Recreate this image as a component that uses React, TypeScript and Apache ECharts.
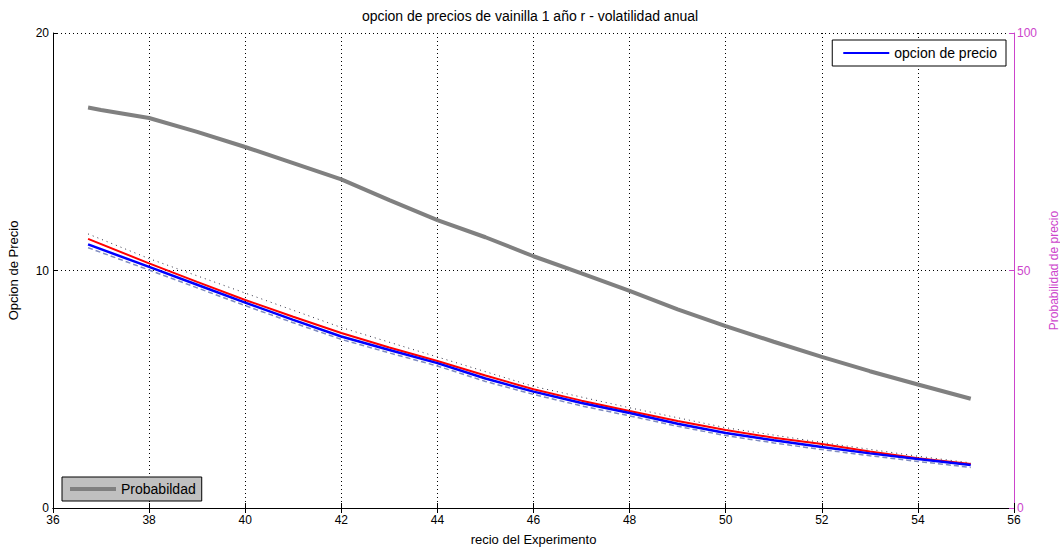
import React, { useEffect, useRef } from "react";
import * as echarts from "echarts";

const title = "opcion de precios de vainilla 1 año r - volatilidad anual";
const xName = "recio del Experimento";
const yLeftName = "Opcion de Precio";
const yRightName = "Probabilidad de precio";

const probX = [36.73, 37, 38, 39, 40, 41, 42, 43, 44, 45, 46, 47, 48, 49, 50, 51, 52, 53, 54, 55.1];
const probY = [84.3, 83.8, 82.1, 79.2, 76.0, 72.6, 69.2, 64.8, 60.6, 57.0, 53.0, 49.4, 45.7, 41.8, 38.3, 35.0, 31.8, 28.8, 26.0, 23.0];

const priceX = [36.73, 38, 39, 40, 41, 42, 43, 44, 45, 46, 47, 48, 49, 50, 51, 52, 53, 54, 55.1];
const mcPrice = [11.1, 10.15, 9.4, 8.65, 7.92, 7.22, 6.65, 6.1, 5.45, 4.9, 4.42, 4.0, 3.55, 3.16, 2.85, 2.57, 2.3, 2.06, 1.81];
const bsPrice = [11.33, 10.3, 9.52, 8.76, 8.05, 7.37, 6.76, 6.19, 5.58, 5.0, 4.52, 4.08, 3.66, 3.28, 2.96, 2.69, 2.38, 2.1, 1.85];
const lowerBand = [10.96, 10.02, 9.27, 8.52, 7.8, 7.1, 6.53, 5.98, 5.33, 4.78, 4.3, 3.88, 3.44, 3.05, 2.74, 2.46, 2.2, 1.96, 1.71];
const upperX = [36.73, 38, 40, 42, 44, 46, 48, 50, 52, 54, 55.1];
const upperBand = [11.54, 10.5, 9.05, 7.6, 6.36, 5.12, 4.22, 3.38, 2.76, 2.18, 1.9];

const zip = (xs: number[], ys: number[]) => xs.map((x, i) => [x, ys[i]]);

const FONT = "Liberation Sans";
const MAG = "#cc44cc";

export default function App() {
  const ref = useRef<HTMLDivElement>(null);
  useEffect(() => {
    if (!ref.current) return;
    const chart = echarts.init(ref.current, null, { renderer: "svg" });
    chart.setOption({
      animation: false,
      backgroundColor: "#fff",
      textStyle: { fontFamily: FONT },
      title: {
        text: title,
        left: "center",
        top: 4,
        textStyle: { fontFamily: FONT, fontSize: 14, fontWeight: "normal", color: "#000" },
      },
      grid: { left: 53, right: 46, top: 33, bottom: 42, containLabel: false, outerBoundsMode: "none" },
      legend: [
        {
          data: ["opcion de precio"],
          right: 54,
          top: 40,
          orient: "vertical",
          backgroundColor: "#fff",
          borderColor: "#000",
          borderWidth: 1,
          borderRadius: 0,
          padding: [6, 9, 6, 11],
          icon: "rect",
          itemWidth: 46,
          itemHeight: 2,
          itemGap: 4,
          textStyle: { fontFamily: FONT, fontSize: 14, color: "#000" },
        },
        {
          data: ["Probabildad"],
          left: 62,
          bottom: 49,
          orient: "vertical",
          backgroundColor: "#c0c0c0",
          borderColor: "#000",
          borderWidth: 1,
          borderRadius: 0,
          padding: [5, 6, 5, 8],
          icon: "rect",
          itemWidth: 46,
          itemHeight: 4,
          itemGap: 4,
          textStyle: { fontFamily: FONT, fontSize: 14, color: "#000" },
        },
      ],
      xAxis: [
        {
          type: "value",
          min: 36,
          max: 56,
          interval: 2,
          name: xName,
          nameLocation: "middle",
          nameGap: 25,
          nameTextStyle: { fontFamily: FONT, fontSize: 13, color: "#000" },
          axisLine: { lineStyle: { color: "#000" } },
          axisTick: { inside: true, length: 5, lineStyle: { color: "#000" } },
          axisLabel: { fontFamily: FONT, fontSize: 12, color: "#000", margin: 6 },
          splitLine: { show: true, lineStyle: { color: "#000", type: [1, 3], width: 1 } },
        },
        {
          type: "value",
          position: "top",
          min: 36,
          max: 56,
          interval: 2,
          axisLine: { show: true, lineStyle: { color: "#000" } },
          axisTick: { show: true, inside: true, length: 5, lineStyle: { color: "#000" } },
          axisLabel: { show: false },
          splitLine: { show: false },
        },
      ],
      yAxis: [
        {
          type: "value",
          min: 0,
          max: 20,
          interval: 10,
          position: "left",
          name: yLeftName,
          nameLocation: "middle",
          nameGap: 33,
          nameTextStyle: { fontFamily: FONT, fontSize: 13, color: "#000" },
          axisLine: { show: true, lineStyle: { color: "#000" } },
          axisTick: { show: true, inside: true, length: 5, lineStyle: { color: "#000" } },
          axisLabel: { fontFamily: FONT, fontSize: 12, color: "#000", margin: 4 },
          splitLine: { show: true, lineStyle: { color: "#000", type: [1, 3], width: 1 } },
        },
        {
          type: "value",
          min: 0,
          max: 100,
          interval: 50,
          position: "right",
          name: yRightName,
          nameLocation: "middle",
          nameGap: 29,
          nameTextStyle: { fontFamily: FONT, fontSize: 12, color: MAG },
          axisLine: { show: true, lineStyle: { color: MAG } },
          axisTick: { show: true, inside: true, length: 5, lineStyle: { color: MAG } },
          axisLabel: { fontFamily: FONT, fontSize: 12, color: MAG, margin: 3 },
          splitLine: { show: false },
        },
      ],
      series: [
        {
          name: "Probabildad",
          type: "line",
          yAxisIndex: 1,
          data: zip(probX, probY),
          symbol: "none",
          lineStyle: { color: "#808080", width: 4 },
          itemStyle: { color: "#808080" },
        },
        {
          name: "upper",
          type: "line",
          data: zip(upperX, upperBand),
          symbol: "none",
          lineStyle: { color: "#334", width: 1, type: [1, 4] },
        },
        {
          name: "lower",
          type: "line",
          data: zip(priceX, lowerBand),
          symbol: "none",
          lineStyle: { color: "#7f8cc0", width: 1.5, type: [5, 3] },
        },
        {
          name: "bs",
          type: "line",
          data: zip(priceX, bsPrice),
          symbol: "none",
          lineStyle: { color: "#ff0000", width: 2 },
        },
        {
          name: "opcion de precio",
          type: "line",
          data: zip(priceX, mcPrice),
          symbol: "none",
          lineStyle: { color: "#0000ff", width: 2.5 },
          itemStyle: { color: "#0000ff" },
        },
      ],
    });
    return () => chart.dispose();
  }, []);
  return (
    <div
      ref={ref}
      style={{ position: "absolute", left: 0, top: 0, width: 1060, height: 550 }}
    />
  );
}
